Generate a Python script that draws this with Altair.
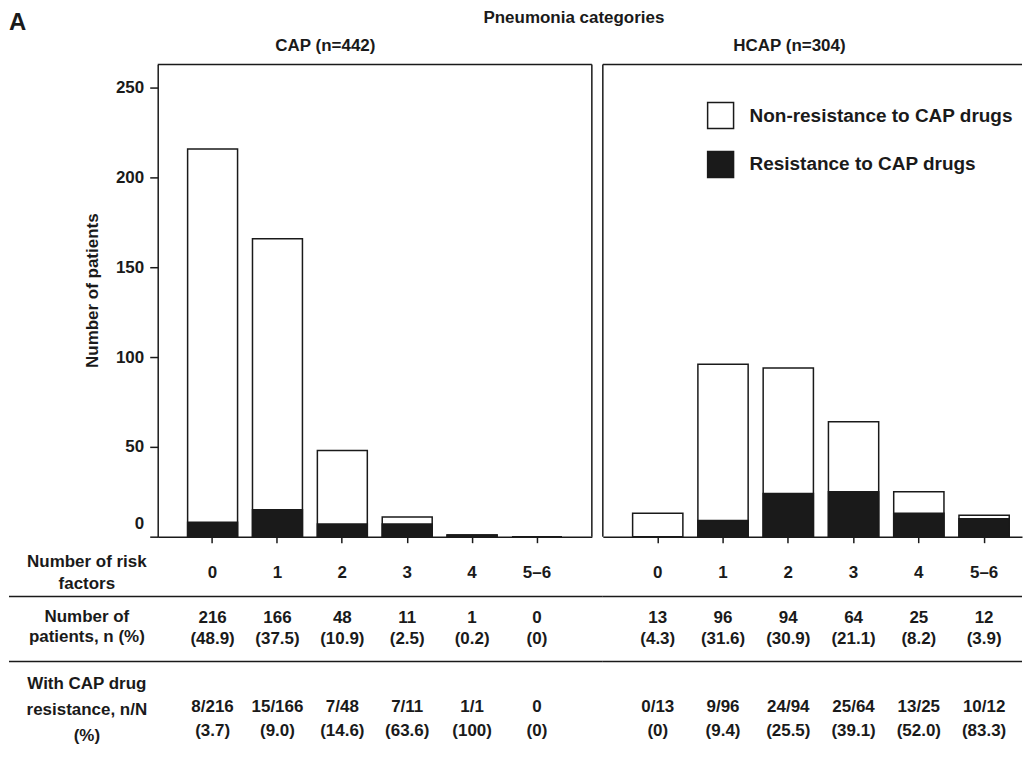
import altair as alt
import pandas as pd

# ---------------- data ----------------
categories = ["0", "1", "2", "3", "4", "5–6"]

cap_total = [216, 166, 48, 11, 1, 0]
cap_resist = [8, 15, 7, 7, 1, 0]
cap_pct = ["48.9", "37.5", "10.9", "2.5", "0.2", "0"]
cap_resist_pct = ["3.7", "9.0", "14.6", "63.6", "100", "0"]

hcap_total = [13, 96, 94, 64, 25, 12]
hcap_resist = [0, 9, 24, 25, 13, 10]
hcap_pct = ["4.3", "31.6", "30.9", "21.1", "8.2", "3.9"]
hcap_resist_pct = ["0", "9.4", "25.5", "39.1", "52.0", "83.3"]

panel_titles = ["CAP (n=442)", "HCAP (n=304)"]
legend_labels = ["Non-resistance to CAP drugs", "Resistance to CAP drugs"]
row_labels = ["Number of risk\nfactors", "Number of\npatients, n (%)",
              "With CAP drug\nresistance, n/N\n(%)"]
super_title = "Pneumonia categories"
panel_letter = "A"
y_title = "Number of patients"
y_ticks = [0, 50, 100, 150, 200, 250]

# ---------------- style ----------------
FONT = "Liberation Sans"
INK = "#1a1a1a"
FS = 17
FW = "bold"
W_L, W_R, H = 435, 420, 473
Y_MAX = 263
LW = 1.5


def make_df(total, resist, pct, rpct):
    return pd.DataFrame({
        "cat": categories,
        "total": total,
        "resist": resist,
        "n_text": [f"{n}\n({p})" for n, p in zip(total, pct)],
        "r_text": [f"{r}/{n}\n({p})" if n > 0 else f"0\n({p})"
                   for r, n, p in zip(resist, total, rpct)],
    })


one = alt.Data(values=[{}])


def hline(x0, x1, y):
    return alt.Chart(one).mark_rule(color=INK, strokeWidth=LW).encode(
        x=alt.value(x0), x2=alt.value(x1), y=alt.value(y))


def vline(x, y0, y1):
    return alt.Chart(one).mark_rule(color=INK, strokeWidth=LW).encode(
        x=alt.value(x), y=alt.value(y0), y2=alt.value(y1))


def label(text, x, y, size=FS, align="center", weight=FW, lh=None):
    kw = dict(fontSize=size, align=align, baseline="middle", color=INK,
              fontWeight=weight, lineBreak="\n")
    if lh:
        kw["lineHeight"] = lh
    return alt.Chart(alt.Data(values=[{"t": text}])).mark_text(**kw).encode(
        x=alt.value(x), y=alt.value(y), text="t:N")


def panel(df, width, xscale, show_y, extra):
    x_enc = alt.X("cat:N", sort=categories, scale=xscale,
                  axis=alt.Axis(title=None, labelAngle=0, tickSize=6, tickWidth=LW,
                                tickColor=INK, domainColor=INK, domainWidth=LW,
                                labelFontSize=FS, labelFontWeight=FW, labelColor=INK,
                                labelBaseline="middle", labelPadding=30, grid=False))
    y_axis = alt.Axis(values=y_ticks, tickSize=8, tickWidth=LW, tickColor=INK,
                      domainColor=INK, domainWidth=LW, labelFontSize=FS,
                      labelFontWeight=FW, labelColor=INK,
                      labelOffset=alt.condition("datum.value == 0", alt.value(-13), alt.value(0)),
                      labelPadding=6, title=y_title, titleFontSize=FS,
                      titleFontWeight=FW, titleColor=INK, titlePadding=14,
                      titleY=226, titleAnchor="middle",
                      grid=False) if show_y else None
    yscale = alt.Scale(domain=[0, Y_MAX], nice=False, zero=True)
    base = alt.Chart(df)
    white = base.mark_bar(fill="white", stroke=INK, strokeWidth=LW).encode(
        x=x_enc, y=alt.Y("total:Q", scale=yscale, axis=y_axis))
    black = base.mark_bar(fill=INK, stroke=INK, strokeWidth=LW).encode(
        x=alt.X("cat:N", sort=categories), y=alt.Y("resist:Q"))
    ntext = base.mark_text(fontSize=FS, fontWeight=FW, align="center", baseline="middle",
                           color=INK, lineBreak="\n", lineHeight=22).encode(
        x=alt.X("cat:N", sort=categories), y=alt.value(554), text="n_text:N")
    rtext = base.mark_text(fontSize=FS, fontWeight=FW, align="center", baseline="middle",
                           color=INK, lineBreak="\n", lineHeight=24).encode(
        x=alt.X("cat:N", sort=categories), y=alt.value(644), text="r_text:N")
    layers = [white, black, ntext, rtext] + extra
    return alt.layer(*layers).properties(width=width, height=H)


cap_df = make_df(cap_total, cap_resist, cap_pct, cap_resist_pct)
hcap_df = make_df(hcap_total, hcap_resist, hcap_pct, hcap_resist_pct)

left_extra = [
    hline(0, W_L, 0), vline(W_L, 0, H),
    hline(-149, W_L + 11, 533), hline(-149, W_L + 11, 598),
    label(row_labels[0], -71, 498, lh=22),
    label(row_labels[1], -71, 553, lh=21),
    label(row_labels[2], -71, 621, lh=26),
    label(panel_letter, -149, -42, size=24, align="left", weight="bold"),
    label(super_title, 417, -47),
    label(panel_titles[0], 168, -19),
]

legend_df = pd.DataFrame({"lab": legend_labels, "kind": ["non", "res"]})
leg_color = alt.Color("kind:N", scale=alt.Scale(domain=["non", "res"], range=["white", INK]),
                      legend=None)


def legend_item(i, y):
    d = legend_df.iloc[[i]]
    sq = alt.Chart(d).mark_square(size=676, stroke=INK, strokeWidth=LW, opacity=1).encode(
        x=alt.value(118), y=alt.value(y), fill=leg_color)
    tx = alt.Chart(d).mark_text(fontSize=19, fontWeight=FW, align="left", baseline="middle",
                                color=INK).encode(
        x=alt.value(147), y=alt.value(y), text="lab:N")
    return [sq, tx]


right_extra = [
    hline(0, W_R, 0), vline(0, 0, H),
    hline(0, W_R, 533), hline(0, W_R, 598),
    label(panel_titles[1], 187, -19),
] + legend_item(0, 51) + legend_item(1, 100)

left = panel(cap_df, W_L, alt.Scale(paddingInner=0.23, paddingOuter=0.461), True, left_extra)
right = panel(hcap_df, W_R, alt.Scale(paddingInner=0.23, paddingOuter=0.326, align=0.70),
              False, right_extra)

chart = alt.hconcat(left, right, spacing=11, bounds="flush").resolve_scale(
    x="independent", y="independent"
).properties(padding=0).configure(font=FONT).configure_view(stroke=None)

chart.save("out.html", embed_options={"renderer": "svg", "actions": False})
